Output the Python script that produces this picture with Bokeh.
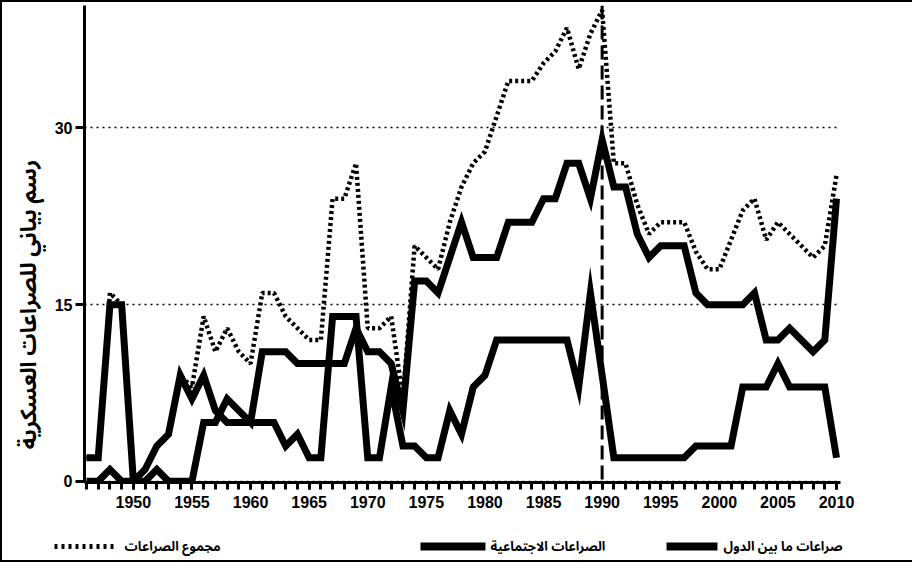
import numpy as np
from bokeh.plotting import figure
from bokeh.layouts import column
from bokeh.models import FixedTicker, Span, Range1d
from bokeh.core.properties import value
from bokeh.embed import file_html
from bokeh.resources import INLINE

years = list(range(1946, 2011))

interstate = [2, 2, 15, 15, 0, 1, 3, 4, 9, 7,
              9, 6, 5, 5, 5, 5, 5, 3, 4, 2,
              2, 14, 14, 14, 2, 2, 8, 3, 3, 2,
              2, 6, 4, 8, 9, 12, 12, 12, 12, 12,
              12, 12, 8, 16, 9, 2, 2, 2, 2, 2,
              2, 2, 3, 3, 3, 3, 8, 8, 8, 10,
              8, 8, 8, 8, 2]

social = [0, 0, 1, 0, 0, 0, 1, 0, 0, 0,
          5, 5, 7, 6, 5, 11, 11, 11, 10, 10,
          10, 10, 10, 13, 11, 11, 10, 6, 17, 17,
          16, 19, 22, 19, 19, 19, 22, 22, 22, 24,
          24, 27, 27, 24, 29, 25, 25, 21, 19, 20,
          20, 20, 16, 15, 15, 15, 15, 16, 12, 12,
          13, 12, 11, 12, 24]

total = [2, 2, 16, 15, 0, 1, 3, 4, 9, 8,
         14, 11, 13, 11, 10, 16, 16, 14, 13, 12,
         12, 24, 24, 27, 13, 13, 14, 7, 20, 19,
         18, 22, 25, 27, 28, 31, 34, 34, 34, 35.5,
         36.5, 38.5, 35, 38, 40, 27, 27, 23.5, 21, 22,
         22, 22, 19.5, 18, 18, 20.5, 23, 24, 20.5, 22,
         21, 20, 19, 20, 26]

x_label_years = [1950, 1955, 1960, 1965, 1970, 1975, 1980, 1985, 1990, 1995, 2000, 2005, 2010]
y_ticks = [0, 15, 30]
marker_year = 1990

y_title = "رسم بياني للصراعات العسكرية"
name_inter = "صراعات ما بين الدول"
name_social = "الصراعات الاجتماعية"
name_total = "مجموع الصراعات"

AR_FONT = "Noto Sans Arabic, DejaVu Sans, sans-serif"
NUM_FONT = "Liberation Sans, Arial, sans-serif"

# ---------------- main chart ----------------
p = figure(width=912, height=520,
           x_range=(1945.83, 2010.34), y_range=(-0.1, 40.4),
           output_backend="svg", toolbar_location=None,
           min_border_left=81, min_border_right=74,
           min_border_top=3, min_border_bottom=40)
p.styles = {"border-left": "2px solid #000", "border-top": "2px solid #000"}
p.outline_line_color = None
p.background_fill_color = "white"
p.border_fill_color = "white"

p.xaxis.ticker = FixedTicker(ticks=x_label_years, minor_ticks=years)
p.yaxis.ticker = FixedTicker(ticks=y_ticks, minor_ticks=[])
for ax in (p.xaxis, p.yaxis):
    ax.axis_line_width = 3
    ax.axis_line_color = "black"
    ax.major_tick_line_width = 3
    ax.major_tick_line_color = "black"
    ax.major_tick_in = 0
    ax.major_label_text_font = NUM_FONT
    ax.major_label_text_font_style = "bold"
    ax.major_label_text_font_size = "16px"
    ax.major_label_text_color = "black"
p.xaxis.major_tick_out = 7
p.xaxis.minor_tick_out = 7
p.xaxis.minor_tick_in = 0
p.xaxis.minor_tick_line_width = 3
p.xaxis.minor_tick_line_color = "black"
p.xaxis.major_label_standoff = 6
p.yaxis.major_tick_out = 9
p.yaxis.minor_tick_line_color = None
p.yaxis.major_label_standoff = 3

# y title (trailing em spaces push the visible words toward the bottom)
p.yaxis.axis_label = y_title + "\u2003" * 5 + "\u2002"
p.yaxis.axis_label_text_font = AR_FONT
p.yaxis.axis_label_text_font_style = "bold"
p.yaxis.axis_label_text_font_size = "22px"
p.yaxis.axis_label_text_color = "black"
p.yaxis.axis_label_standoff = 0

p.xgrid.grid_line_color = None
p.ygrid.grid_line_color = "black"
p.ygrid.grid_line_width = 1.6
p.ygrid.grid_line_dash = "2 4"

p.line(years, interstate, line_color="black", line_width=7, line_join="miter")
p.line(years, social, line_color="black", line_width=7, line_join="miter")
p.line(years, total, line_color="black", line_width=4.5, line_dash="3 3")

p.add_layout(Span(location=marker_year, dimension="height", line_color="black",
                  line_width=3, line_dash="14 6"))

# ---------------- legend strip (canvas pixel coordinates) ----------------
lg = figure(width=912, height=42, y_range=Range1d(0, 42),
            output_backend="svg", toolbar_location=None,
            x_axis_location=None, y_axis_location=None,
            min_border_left=0, min_border_right=0, min_border_top=0, min_border_bottom=0)
free_frame = hasattr(lg, "frame_align")
if free_frame:
    p.frame_align = False
    lg.frame_align = False
    lg.x_range = Range1d(0, 912)
    dots_x = [52, 115]
else:
    # frames stay aligned with the main chart: frame covers canvas x 81..838
    lg.x_range = Range1d(81, 838)
    dots_x = [84, 140]
lg.styles = {"border-left": "2px solid #000", "border-bottom": "2px solid #000"}
lg.grid.visible = False
lg.outline_line_color = None
lg.background_fill_color = "white"
lg.border_fill_color = "white"

row_y = 16
lg.line(x=dots_x, y=[row_y, row_y], line_color="black", line_width=5, line_dash="3 4")
lg.line(x=[418, 483], y=[row_y, row_y], line_color="black", line_width=8)
lg.line(x=[664, 715], y=[row_y, row_y], line_color="black", line_width=8)
lg.text(x=[dots_x[1] + 7, 488, 721], y=[row_y] * 3,
        text=[name_total, name_social, name_inter],
        text_align="left", text_baseline="middle",
        text_font=value(AR_FONT), text_font_style="bold",
        text_font_size="13px", text_color="black")

layout = column(p, lg, spacing=0)
open("out.html", "w").write(file_html(layout, INLINE))
